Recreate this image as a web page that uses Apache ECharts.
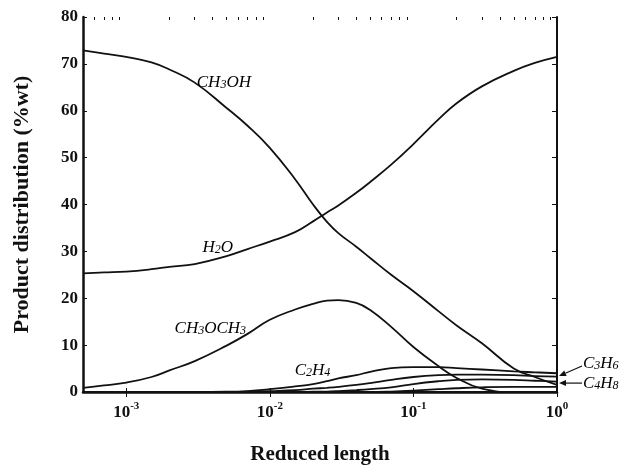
<!DOCTYPE html>
<html><head><meta charset="utf-8">
<script src="https://cdn.jsdelivr.net/npm/echarts@6/dist/echarts.min.js"></script>
<style>html,body{margin:0;padding:0;background:#fff}#c{width:621px;height:465px}</style>
</head><body><div id="c"></div>
<script>
// ---- data ----
const reducedLength = [0.0005,0.0007,0.001,0.0015,0.002,0.003,0.005,0.007,0.01,0.015,0.02,0.025,0.03,0.04,0.05,0.07,0.1,0.15,0.2,0.3,0.5,0.7,1.0];
const ch3oh   = [72.9,72.2,71.5,70.3,68.8,66.0,60.6,56.8,52.1,45.4,40.0,36.3,33.9,31.0,28.6,25.0,21.5,17.2,14.2,10.4,5.0,3.2,1.5];
const h2o     = [25.3,25.5,25.7,26.2,26.7,27.3,29.0,30.5,32.1,34.1,36.4,38.3,39.8,42.5,44.8,48.5,52.9,58.2,61.6,65.2,68.5,70.2,71.5];
const ch3och3 = [0.9,1.4,2.0,3.2,4.6,6.6,9.9,12.4,15.4,17.6,18.8,19.5,19.6,19.0,17.5,13.9,9.6,5.5,3.0,0.7,0,0,0];
const c2h4    = [0,0,0,0,0,0,0.05,0.2,0.6,1.2,1.7,2.3,2.9,3.6,4.3,5.1,5.3,5.3,5.1,4.8,4.4,4.2,4.0];
const c3h6    = [0,0,0,0,0,0,0,0.05,0.2,0.4,0.7,0.9,1.1,1.5,1.9,2.6,3.2,3.6,3.7,3.7,3.6,3.4,3.3];
const c4h8    = [0,0,0,0,0,0,0,0,0,0,0.05,0.1,0.2,0.4,0.6,1.0,1.7,2.3,2.6,2.7,2.6,2.4,2.2];
const other   = [0,0,0,0,0,0,0,0,0,0,0,0,0,0,0,0.1,0.3,0.6,0.8,1.0,1.1,1.1,1.1];
const xMajorTicks = [0.001,0.01,0.1,1];
const xMinorTicks = [0.0006,0.0007,0.0008,0.0009,0.002,0.003,0.004,0.005,0.006,0.007,0.008,0.009,0.02,0.03,0.04,0.05,0.06,0.07,0.08,0.09,0.2,0.3,0.4,0.5,0.6,0.7,0.8,0.9];
const yTicks = [0,10,20,30,40,50,60,70,80];

const serif = '"Liberation Serif","Times New Roman",serif';
const ink = '#111';
const chart = echarts.init(document.getElementById('c'));

function pairs(ys){ return reducedLength.map((x,i)=>[x,ys[i]]); }
function lineSeries(name, ys){
  return {name, type:'line', data:pairs(ys), smooth:0.45, symbol:'none',
    lineStyle:{color:ink,width:1.8}, z:3, animation:false};
}
const italic = {fontFamily:serif,fontStyle:'italic',fontSize:17,lineHeight:18,color:ink,verticalAlign:'bottom'};
const subs = {fontFamily:serif,fontStyle:'italic',fontSize:12,lineHeight:14,color:ink,verticalAlign:'bottom'};
function chem(f){ // 'CH_3OH' -> rich
  return f.split(/(_\d)/).filter(s=>s).map(s=> s[0]==='_' ? '{s|'+s.slice(1)+'}' : '{i|'+s+'}').join('');
}

const option = {
  animation:false,
  backgroundColor:'#fff',
  grid:{left:83,right:64,top:17,bottom:73,outerBoundsMode:'none',containLabel:false},
  xAxis:[
    {type:'log', logBase:10, min:0.0005, max:1, position:'bottom',
     name:'Reduced length', nameLocation:'middle', nameGap:52,
     nameTextStyle:{fontFamily:serif,fontWeight:'bold',fontSize:21,color:ink},
     axisLine:{lineStyle:{color:ink,width:2.5}},
     axisTick:{inside:true,length:4,customValues:xMajorTicks,lineStyle:{color:ink,width:1}},
     axisLabel:{customValues:xMajorTicks, margin:9,
       formatter:v=>'{b|10}{s|'+Math.round(Math.log10(v))+'}',
       rich:{b:{fontFamily:serif,fontWeight:'bold',fontSize:17,lineHeight:20,color:ink,verticalAlign:'bottom'},
             s:{fontFamily:serif,fontWeight:'bold',fontSize:11,lineHeight:20,color:ink,verticalAlign:'top'}}},
     splitLine:{show:false}},
    {type:'log', logBase:10, min:0.0005, max:1, position:'top',
     axisLine:{lineStyle:{color:ink,width:1.8}},
     axisTick:{inside:true,length:5,customValues:xMajorTicks,lineStyle:{color:ink,width:1}},
     axisLabel:{show:false}, splitLine:{show:false}},
    {type:'log', logBase:10, min:0.0005, max:1, position:'top',
     axisLine:{show:false},
     axisTick:{inside:true,length:3,customValues:xMinorTicks,lineStyle:{color:ink,width:1}},
     axisLabel:{show:false}, splitLine:{show:false}}
  ],
  yAxis:[
    {type:'value', min:0, max:80, interval:10, position:'left',
     name:'Product distribution (%wt)', nameLocation:'middle', nameGap:50, nameRotate:90,
     nameTextStyle:{fontFamily:serif,fontWeight:'bold',fontSize:22,color:ink},
     axisLine:{show:true,lineStyle:{color:ink,width:2.5}},
     axisTick:{show:true,inside:true,length:4,lineStyle:{color:ink,width:1}},
     axisLabel:{margin:5,fontFamily:serif,fontWeight:'bold',fontSize:17,color:ink,
       customValues:yTicks},
     splitLine:{show:false}},
    {type:'value', min:0, max:80, interval:10, position:'right',
     axisLine:{show:true,lineStyle:{color:ink,width:2}},
     axisTick:{show:true,inside:true,length:5,lineStyle:{color:ink,width:1}},
     axisLabel:{show:false}, splitLine:{show:false}}
  ],
  series:[
    lineSeries('CH3OH',ch3oh),
    lineSeries('H2O',h2o),
    lineSeries('CH3OCH3',ch3och3),
    lineSeries('C2H4',c2h4),
    lineSeries('C3H6',c3h6),
    lineSeries('C4H8',c4h8),
    lineSeries('other',other)
  ]
};
chart.setOption(option);

// annotations anchored in data space
const rich = {i:italic, s:subs};
function textAt(formula, x, y, dx, dy){
  const p = chart.convertToPixel({xAxisIndex:0,yAxisIndex:0},[x,y]);
  return {type:'text', x:p[0]+(dx||0), y:p[1]+(dy||0), z:10,
    style:{text:chem(formula), rich, align:'left', verticalAlign:'middle', textAlign:'left', textVerticalAlign:'middle'}};
}
const tipC3 = chart.convertToPixel({xAxisIndex:0,yAxisIndex:0},[1,3.4]);
const tipC4 = chart.convertToPixel({xAxisIndex:0,yAxisIndex:0},[1,1.9]);
function arrow(tip, tail){
  const ang = Math.atan2(tip[1]-tail[1], tip[0]-tail[0]);
  const L=7, W=3;
  const bx = tip[0]-L*Math.cos(ang), by = tip[1]-L*Math.sin(ang);
  const nx = -Math.sin(ang)*W, ny = Math.cos(ang)*W;
  return [
    {type:'line', z:10, shape:{x1:tail[0],y1:tail[1],x2:bx,y2:by}, style:{stroke:ink,lineWidth:1.2}},
    {type:'polygon', z:10, shape:{points:[[tip[0],tip[1]],[bx+nx,by+ny],[bx-nx,by-ny]]}, style:{fill:ink}}
  ];
}
const graphics = [
  textAt('CH_3OH', 0.0031, 66.1),
  textAt('H_2O', 0.0034, 30.9),
  textAt('CH_3OCH_3', 0.00217, 13.7),
  textAt('C_2H_4', 0.0149, 4.7),
  {type:'text', x:tipC3[0]+26, y:tipC3[1]-13, z:10, style:{text:chem('C_3H_6'), rich, align:'left', verticalAlign:'middle', textAlign:'left', textVerticalAlign:'middle'}},
  {type:'text', x:tipC4[0]+26, y:tipC4[1], z:10, style:{text:chem('C_4H_8'), rich, align:'left', verticalAlign:'middle', textAlign:'left', textVerticalAlign:'middle'}},
  ...arrow([tipC3[0]+2,tipC3[1]],[tipC3[0]+25,tipC3[1]-10]),
  ...arrow([tipC4[0]+2,tipC4[1]],[tipC4[0]+25,tipC4[1]])
];
chart.setOption({graphic:graphics});
</script>
</body></html>
